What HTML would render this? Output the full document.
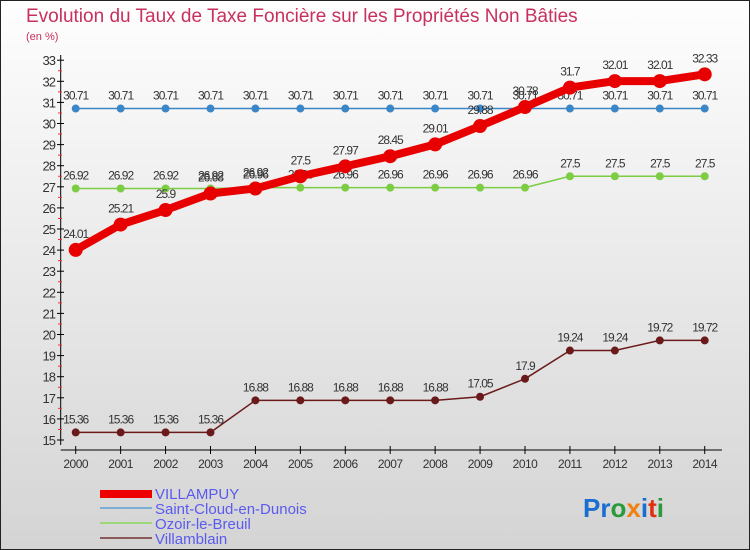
<!DOCTYPE html>
<html><head><meta charset="utf-8"><style>
body{margin:0;width:750px;height:550px;overflow:hidden}
#c{position:absolute;left:0;top:0;width:748px;height:548px;border:1px solid #222;background:linear-gradient(#fefefe,#d4d4d4)}
svg{position:absolute;left:0;top:0}
text{font-family:"Liberation Sans",sans-serif}
</style></head><body>
<div id="c"></div>
<svg id="s" width="750" height="550">
<text x="26" y="22" font-size="19" fill="#c8305e">Evolution du Taux de Taxe Foncière sur les Propriétés Non Bâties</text>
<text x="26" y="40" font-size="11" fill="#c8305e">(en %)</text>
<g>
<rect x="100" y="490" width="52" height="8" fill="#e00"/>
<text x="155" y="499" font-size="15" fill="#5a5af0">VILLAMPUY</text>
<rect x="100" y="507" width="52" height="2" fill="#7aaed6"/>
<text x="155" y="514" font-size="15" fill="#5a5af0">Saint-Cloud-en-Dunois</text>
<rect x="100" y="522" width="52" height="2" fill="#9ed67a"/>
<text x="155" y="529" font-size="15" fill="#5a5af0">Ozoir-le-Breuil</text>
<rect x="100" y="537" width="52" height="2" fill="#8a5a5a"/>
<text x="155" y="544" font-size="15" fill="#5a5af0">Villamblain</text>
</g>
<text x="583" y="517" font-size="26" font-weight="bold"><tspan fill="#1a6ed0">Pr</tspan><tspan fill="#2a9a3a">o</tspan><tspan fill="#f08010">x</tspan><tspan fill="#1a6ed0">i</tspan><tspan fill="#e03010">t</tspan><tspan fill="#2a9a3a">i</tspan></text>
</svg>
<script>
const years=[2000,2001,2002,2003,2004,2005,2006,2007,2008,2009,2010,2011,2012,2013,2014];
const yTicks=[15,16,17,18,19,20,21,22,23,24,25,26,27,28,29,30,31,32,33];
const villampuy=[24.01,25.21,25.9,26.68,26.92,27.5,27.97,28.45,29.01,29.88,30.78,31.7,32.01,32.01,32.33];
const saintCloud=[30.71,30.71,30.71,30.71,30.71,30.71,30.71,30.71,30.71,30.71,30.71,30.71,30.71,30.71,30.71];
const ozoir=[26.92,26.92,26.92,26.92,26.96,26.96,26.96,26.96,26.96,26.96,26.96,27.5,27.5,27.5,27.5];
const villamblain=[15.36,15.36,15.36,15.36,16.88,16.88,16.88,16.88,16.88,17.05,17.9,19.24,19.24,19.72,19.72];
const NS='http://www.w3.org/2000/svg',svg=document.getElementById('s');
const X=i=>75.7+i*44.93, Y=v=>440-(v-15)*21.1;
function el(t,a,p){const e=document.createElementNS(NS,t);for(const k in a)e.setAttribute(k,a[k]);(p||svg).appendChild(e);return e;}
const ax=el('g',{});


el('line',{x1:60.7,y1:55,x2:60.7,y2:445,stroke:'#000','stroke-width':1},ax);
el('line',{x1:60.7,y1:450,x2:722,y2:450,stroke:'#000','stroke-width':1},ax);
yTicks.forEach(v=>{
 el('line',{x1:57,y1:Y(v),x2:64,y2:Y(v),stroke:'#000'},ax);
 if(v<33)el('line',{x1:58,y1:Y(v+0.5),x2:62,y2:Y(v+0.5),stroke:'#e33'},ax);
 const t=el('text',{x:55,y:Y(v)+5,'font-size':13,fill:'#333','text-anchor':'end','letter-spacing':'-1'},ax);
 
 
 t.textContent=v;
});
years.forEach((yr,i)=>{
 el('line',{x1:X(i),y1:446,x2:X(i),y2:454,stroke:'#000'},ax);
 const t=el('text',{x:X(i),y:468,'font-size':12,fill:'#333','text-anchor':'middle','letter-spacing':'-0.5'},ax);
 
 
 t.textContent=yr;
});
function series(name,data,color,w,r){
 const g=el('g',{});
 
 
 el('polyline',{points:data.map((v,i)=>X(i)+','+Y(v)).join(' '),fill:'none',stroke:color,'stroke-width':w,'stroke-linejoin':'round'},g);
 data.forEach((v,i)=>{
  const c=el('circle',{cx:X(i),cy:Y(v),r:r,fill:color},g);
  
  
  const t=el('text',{x:X(i),y:Y(v)-(r+5),'font-size':12,fill:'#333','text-anchor':'middle','letter-spacing':'-1'},g);
  
  
  t.textContent=v;
 });
}
series('saint-cloud',saintCloud,'#3a86c6',1.5,4);
series('ozoir',ozoir,'#7ccc44',1.5,4);
series('villamblain',villamblain,'#6a1a1a',1.5,4);
series('villampuy',villampuy,'#e80000',8,7);
</script>
</body></html>
